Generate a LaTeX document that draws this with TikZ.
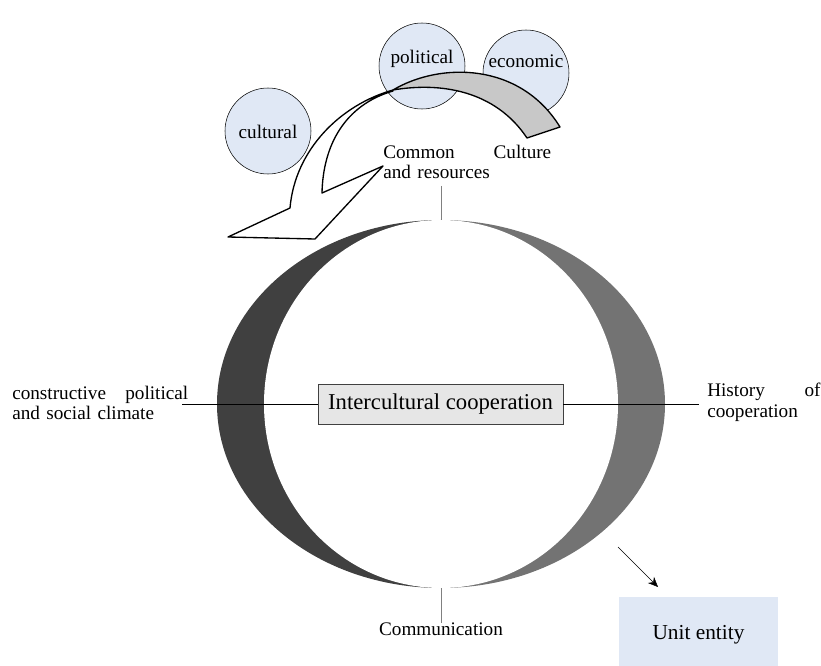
\documentclass[tikz,border=0pt]{standalone}
\usepackage{fontspec}
\setmainfont{Liberation Serif}
\usetikzlibrary{arrows.meta,positioning}
\definecolor{circblue}{RGB}{224,232,245}
\definecolor{ringdark}{RGB}{64,64,64}
\definecolor{ringgray}{RGB}{115,115,115}
\definecolor{bandgray}{RGB}{200,200,200}
\definecolor{boxgray}{RGB}{230,230,230}

\begin{document}
\begin{tikzpicture}[
  x=0.75pt, y=-0.75pt,
  every node/.style={font=\fontsize{14.4}{15.5}\selectfont, inner sep=0pt},
  factor/.style={circle, draw, thin, fill=circblue, minimum size=64.5pt},
  sidetext/.style={align=left, anchor=west}
]
\useasboundingbox (0,0) rectangle (821,666);

% ring
\begin{scope}
  \clip (0,0) rectangle (441,666);
  \fill[ringdark] (441,404) ellipse[x radius=224, y radius=184];
\end{scope}
\begin{scope}
  \clip (441,0) rectangle (821,666);
  \fill[ringgray] (441,404) ellipse[x radius=224, y radius=184];
\end{scope}
\fill[white] (441,404) ellipse[x radius=177, y radius=184];
\coordinate (ringtop) at (441,220);
\coordinate (ringbot) at (441,588);

% factors
\node[factor] (cultural) at (268,131) {};
\node[factor] (political) at (422,66) {};
\node[factor] (economic) at (526,73) {};
\node (culturaltxt) at (268,132) {cultural};
\node (politicaltxt) at (422,59) {political};
\node (economictxt) at (526,61) {economic};

% curved arrow
\draw[fill=bandgray, line width=1pt, line join=round]
  (393,90) .. controls (440,62) and (520,62) .. (560,127) -- (527,138)
  .. controls (495,90) and (440,82) .. (393,90) -- cycle;
\draw[fill=white, line width=1pt, line join=round]
  (393,90) .. controls (340,105) and (295,150) .. (290,208) -- (228,237)
  -- (315,239) -- (383,166) -- (322,193)
  .. controls (323,145) and (345,105) .. (393,91) -- cycle;

% labels
\node[sidetext, text width=126pt] (common) at (383,162) {Common\hfill Culture\\and resources};
\node[below=26pt of ringbot] (comm) {Communication};
\node[sidetext, text width=132pt] (climate) at (12,403) {constructive\hfill political\\and social climate};
\node[sidetext, text width=85pt] (history) at (707,402) {History\hfill of\\cooperation};

\draw[gray] (441,186) -- (ringtop);
\draw[gray] (ringbot) -- (441,623);

% centre
\node[draw=black!75, fill=boxgray, minimum width=183.75pt, minimum height=30pt,
  font=\fontsize{17}{20}\selectfont] (coop) at (440.5,404) {Intercultural cooperation};
\draw (182,404) -- (coop.west);
\draw (coop.east) -- (699,404);

% unit entity
\node[fill=circblue, minimum width=119.25pt, minimum height=51.75pt] (unitbox) at (698.5,631.5) {};
\node[font=\fontsize{16}{19}\selectfont] (unit) at (698.5,635) {Unit entity};
\coordinate (arrfrom) at (618,547);
\coordinate (arrto) at (658,587);
\draw[-{Stealth[length=7.5pt,width=6.5pt]}] (arrfrom) -- (arrto);
\end{tikzpicture}
\end{document}
